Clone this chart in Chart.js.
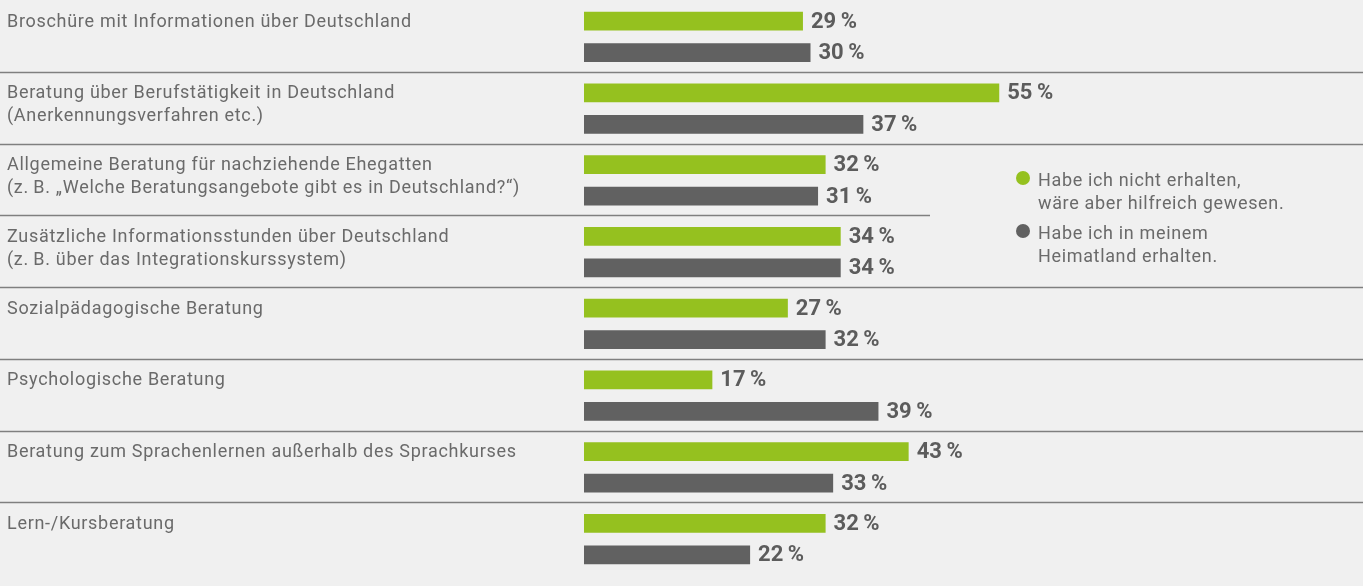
<!DOCTYPE html>
<html lang="de">
<head>
  <meta charset="UTF-8">
  <title>Beratungsangebote</title>
  <script src="https://cdn.jsdelivr.net/npm/chart.js"></script>
  <style>
    html, body { margin: 0; padding: 0; background: #f0f0f0; }
    #wrap { width: 1363px; height: 586px; }
  </style>
</head>
<body>
  <div id="wrap">
    <canvas id="beratungChart" width="1363" height="586"></canvas>
  </div>

  <script>
    // Kategorien (mehrzeilig)
    const kategorien = [
      ['Broschüre mit Informationen über Deutschland'],
      ['Beratung über Berufstätigkeit in Deutschland', '(Anerkennungsverfahren etc.)'],
      ['Allgemeine Beratung für nachziehende Ehegatten', '(z.\u2009B. „Welche Beratungsangebote gibt es in Deutschland?“)'],
      ['Zusätzliche Informationsstunden über Deutschland', '(z.\u2009B. über das Integrationskurssystem)'],
      ['Sozialpädagogische Beratung'],
      ['Psychologische Beratung'],
      ['Beratung zum Sprachenlernen außerhalb des Sprachkurses'],
      ['Lern-/Kursberatung']
    ];

    const nichtErhalten = [29, 55, 32, 34, 27, 17, 43, 32];
    const heimatland = [30, 37, 31, 34, 32, 39, 33, 22];

    const legendeTexte = [
      ['Habe ich nicht erhalten,', 'wäre aber hilfreich gewesen.'],
      ['Habe ich in meinem', 'Heimatland erhalten.']
    ];

    const GRUEN = '#95c11f';
    const GRAU = '#616161';
    const TEXT = '#6a6a6a';

    // Beschriftungen links, Trennlinien, Werte und Legende
    const zeichnenPlugin = {
      id: 'zeichnen',
      afterDatasetsDraw(chart) {
        const ctx = chart.ctx;
        const y = chart.scales.y;
        const band = (y.getPixelForValue(1) - y.getPixelForValue(0));
        ctx.save();

        // Trennlinien
        ctx.strokeStyle = '#7f7f7f';
        ctx.lineWidth = 1.5;
        for (let i = 1; i < kategorien.length; i++) {
          const ly = Math.round(y.getPixelForValue(i) - band / 2) - 0.5;
          ctx.beginPath();
          ctx.moveTo(0, ly);
          ctx.lineTo(i === 3 ? 930 : chart.width, ly);
          ctx.stroke();
        }

        // Kategorien
        ctx.fillStyle = TEXT;
        ctx.font = '18px Roboto';
        ctx.letterSpacing = '0.7px';
        ctx.textAlign = 'left';
        ctx.textBaseline = 'alphabetic';
        kategorien.forEach((zeilen, i) => {
          const top = y.getPixelForValue(i) - band / 2;
          zeilen.forEach((z, j) => ctx.fillText(z, 7, top + 25.5 + j * 23));
        });

        // Werte
        ctx.font = 'bold 22px Roboto';
        ctx.letterSpacing = '0px';
        ctx.fillStyle = '#5c5c5c';
        ctx.textBaseline = 'middle';
        chart.data.datasets.forEach((ds, di) => {
          chart.getDatasetMeta(di).data.forEach((bar, i) => {
            ctx.fillText(ds.data[i] + '\u2009%', bar.x + 8, bar.y + 1);
          });
        });

        // Legende
        ctx.font = '18px Roboto';
        ctx.letterSpacing = '0.65px';
        ctx.textBaseline = 'alphabetic';
        const farben = [GRUEN, GRAU];
        legendeTexte.forEach((zeilen, k) => {
          const cy = 178 + k * 53;
          ctx.fillStyle = farben[k];
          ctx.beginPath();
          ctx.arc(1023, cy, 7, 0, Math.PI * 2);
          ctx.fill();
          ctx.fillStyle = TEXT;
          zeilen.forEach((z, j) => ctx.fillText(z, 1038, cy + 8 + j * 23));
        });

        ctx.restore();
      }
    };

    const ctx = document.getElementById('beratungChart').getContext('2d');
    new Chart(ctx, {
      type: 'bar',
      data: {
        labels: kategorien.map(k => k.join(' ')),
        datasets: [
          {
            label: 'Habe ich nicht erhalten, wäre aber hilfreich gewesen.',
            data: nichtErhalten,
            backgroundColor: GRUEN,
            categoryPercentage: 0.877,
            barPercentage: 0.6
          },
          {
            label: 'Habe ich in meinem Heimatland erhalten.',
            data: heimatland,
            backgroundColor: GRAU,
            categoryPercentage: 0.877,
            barPercentage: 0.6
          }
        ]
      },
      options: {
        indexAxis: 'y',
        responsive: false,
        devicePixelRatio: 1,
        animation: false,
        layout: { padding: { left: 584, right: 24, top: 1, bottom: 11 } },
        scales: {
          x: { min: 0, max: 100, display: false, grid: { display: false } },
          y: { display: false, grid: { display: false } }
        },
        plugins: {
          legend: { display: false },
          tooltip: { enabled: false }
        }
      },
      plugins: [zeichnenPlugin]
    });
  </script>
</body>
</html>
